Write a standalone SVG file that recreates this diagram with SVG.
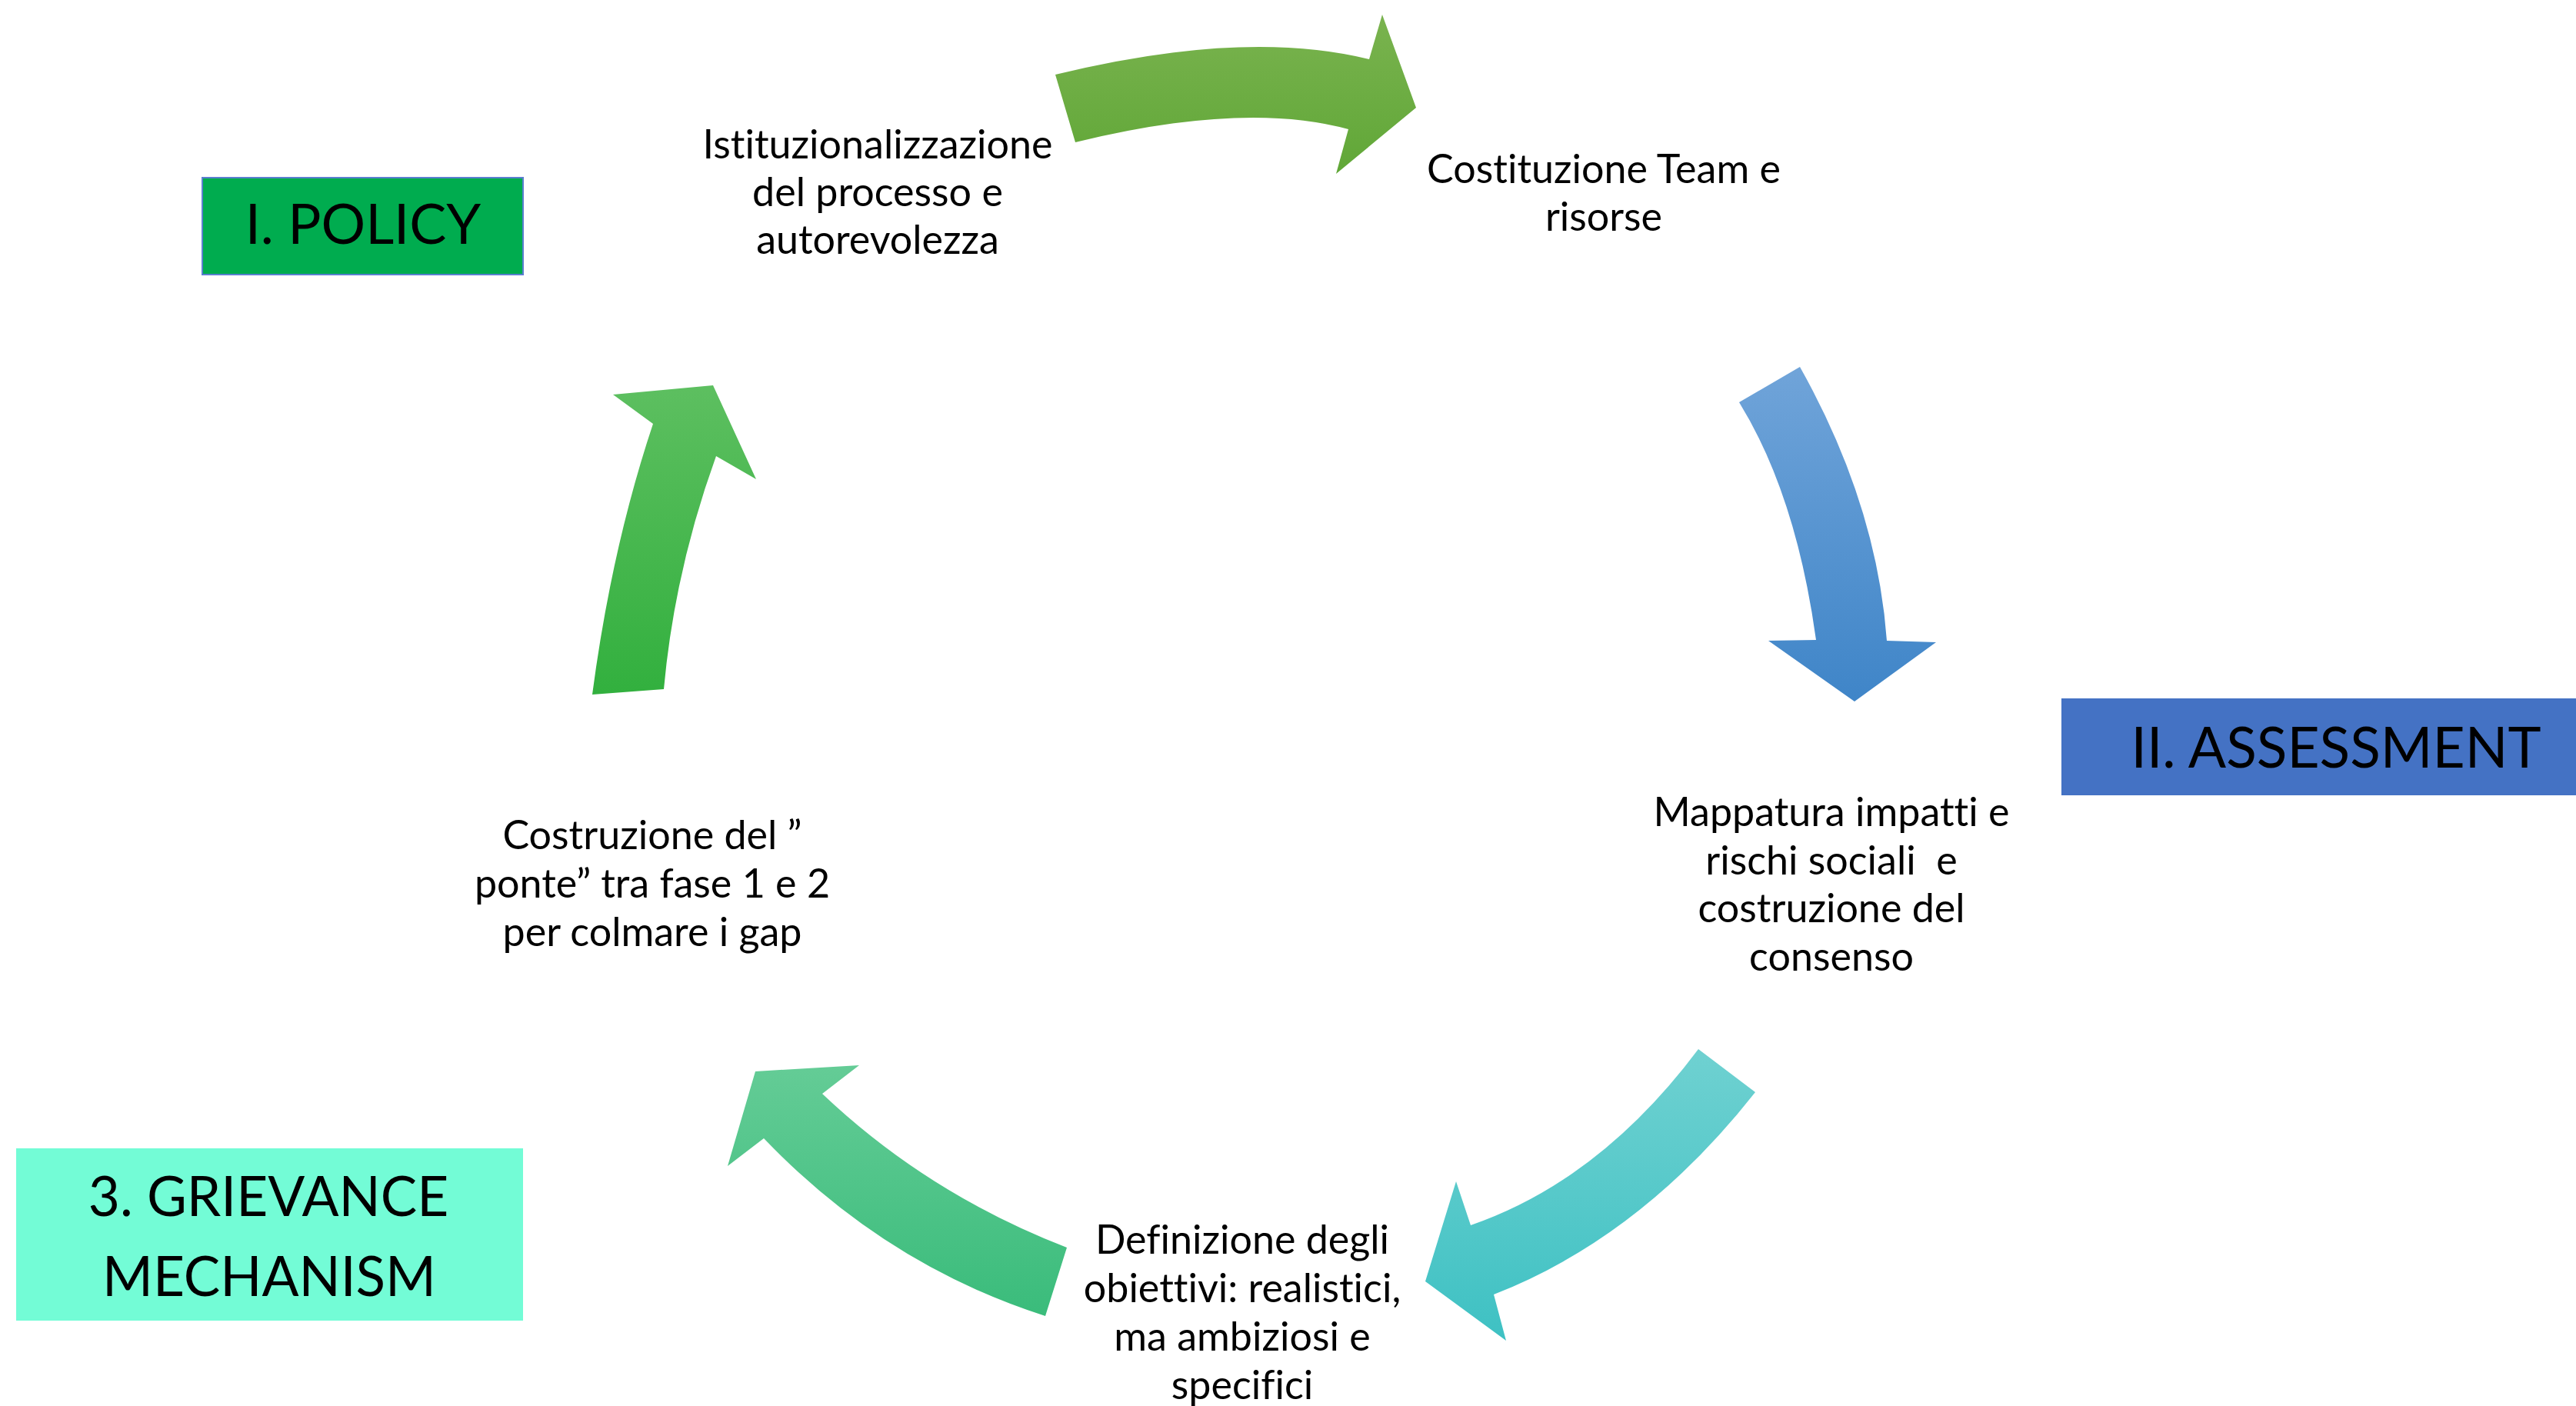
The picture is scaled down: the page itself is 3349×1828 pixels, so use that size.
<svg xmlns="http://www.w3.org/2000/svg" width="3349" height="1828" viewBox="0 0 3349 1828">
<style>
.lbl{font-family:Lato,"Open Sans","Liberation Sans",sans-serif;font-size:52px;fill:#000;text-anchor:middle;white-space:pre;font-variant-ligatures:none}
.ttl{font-family:Lato,"Open Sans","Liberation Sans",sans-serif;font-size:72px;fill:#000;text-anchor:middle;font-variant-ligatures:none}
</style>
<defs>
<linearGradient id="gTop" x1="0" y1="0" x2="0" y2="1"><stop offset="0" stop-color="#7ab34f"/><stop offset="1" stop-color="#60a737"/></linearGradient>
<linearGradient id="gBlue" x1="0" y1="0" x2="0" y2="1"><stop offset="0" stop-color="#70a4d9"/><stop offset="1" stop-color="#3f85c8"/></linearGradient>
<linearGradient id="gTeal" x1="0" y1="0" x2="0" y2="1"><stop offset="0" stop-color="#6fd1d1"/><stop offset="1" stop-color="#3ec1c3"/></linearGradient>
<linearGradient id="gSea" x1="0" y1="0" x2="0" y2="1"><stop offset="0" stop-color="#64cc96"/><stop offset="1" stop-color="#3abc7b"/></linearGradient>
<linearGradient id="gLeft" x1="0" y1="0" x2="0" y2="1"><stop offset="0" stop-color="#5dbf60"/><stop offset="1" stop-color="#32b03e"/></linearGradient>
</defs>
<rect width="3349" height="1828" fill="#fff"/>
<g id="connectors">
<path d="M1372,97 Q1618,37 1780,77 L1797,19 L1841,140 L1737,226 L1753,168 Q1618,131 1398,185 Z" fill="url(#gTop)"/>
<path d="M2261,523 L2340,477 Q2440,655 2453,833 L2517,835 L2411,912 L2299,833 L2361,832 Q2335,643 2261,523 Z" fill="url(#gBlue)"/>
<path d="M2208,1364 L2282,1420 Q2134,1608 1942,1683 L1958,1743 L1853,1666 L1893,1536 L1912,1593 Q2080,1535 2208,1364 Z" fill="url(#gTeal)"/>
<path d="M1387,1622 L1359,1711 Q1150,1644 993,1480 L946,1516 L982,1393 L1117,1385 L1069,1422 Q1206,1552 1387,1622 Z" fill="url(#gSea)"/>
<path d="M770,903 L863,896 Q877,742 931,593 L983,623 L927,501 L797,513 L849,551 Q795,713 770,903 Z" fill="url(#gLeft)"/>
</g>
<g id="policy">
<rect x="263" y="231" width="417" height="126" fill="#00ac4f" stroke="#5b7fd0" stroke-width="2"/>
<text class="ttl" x="472" y="317">I. POLICY</text>
</g>
<g id="assessment">
<rect x="2680" y="908" width="669" height="126" fill="#4472c4"/>
<text class="ttl" x="3037" y="998" style="font-size:73px">II. ASSESSMENT</text>
</g>
<g id="grievance">
<rect x="21" y="1493" width="659" height="224" fill="#73fcd6"/>
<text class="ttl" x="349" y="1581" style="font-size:71px">3. GRIEVANCE</text>
<text class="ttl" x="350" y="1685" style="font-size:71px">MECHANISM</text>
</g>
<g id="istituzionalizzazione">
<text class="lbl" x="1141" y="206">Istituzionalizzazione</text>
<text class="lbl" x="1141" y="268">del processo e</text>
<text class="lbl" x="1141" y="330">autorevolezza</text>
</g>
<g id="costituzione">
<text class="lbl" x="2085" y="238">Costituzione Team e</text>
<text class="lbl" x="2085" y="300">risorse</text>
</g>
<g id="mappatura">
<text class="lbl" x="2381" y="1074">Mappatura impatti e</text>
<text class="lbl" x="2381" y="1137">rischi sociali  e</text>
<text class="lbl" x="2381" y="1199">costruzione del</text>
<text class="lbl" x="2381" y="1262">consenso</text>
</g>
<g id="definizione">
<text class="lbl" x="1615" y="1630">Definizione degli</text>
<text class="lbl" x="1615" y="1693">obiettivi: realistici,</text>
<text class="lbl" x="1615" y="1756">ma ambiziosi e</text>
<text class="lbl" x="1615" y="1819">specifici</text>
</g>
<g id="costruzione">
<text class="lbl" x="848" y="1104">Costruzione del ”</text>
<text class="lbl" x="848" y="1167">ponte” tra fase 1 e 2</text>
<text class="lbl" x="848" y="1230">per colmare i gap</text>
</g>
</svg>
